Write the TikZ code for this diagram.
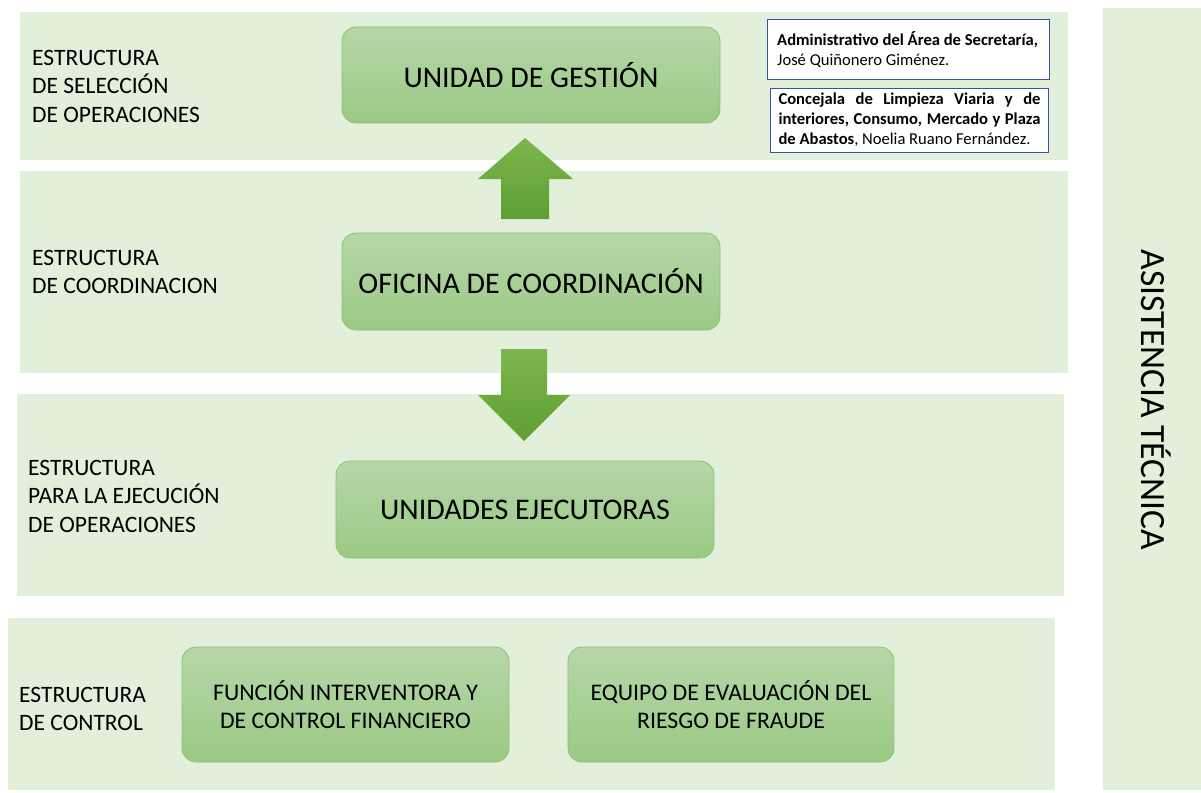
\documentclass[tikz,border=0pt]{standalone}
\usepackage{fontspec}
\setmainfont{Carlito}
\usetikzlibrary{positioning}
\definecolor{band}{HTML}{E2EFDA}
\definecolor{boxtop}{HTML}{B6D7A8}
\definecolor{boxbot}{HTML}{9BC985}
\definecolor{boxline}{HTML}{8CC26E}
\definecolor{arrtop}{HTML}{7DB64E}
\definecolor{arrbot}{HTML}{5E9E32}
\definecolor{blueline}{HTML}{3454A0}
\tikzset{
  bandbox/.style={fill=band, draw=none},
  greenbox/.style={rounded corners=14pt, top color=boxtop, bottom color=boxbot, draw=boxline, line width=0.8pt, align=center, inner sep=0pt},
  lbl/.style={anchor=west, align=left, font=\fontsize{23.5}{28.5}\selectfont, inner sep=0pt},
  infobox/.style={draw=blueline, line width=1.4pt, fill=white, inner sep=0pt, anchor=north west},
  blockarrow/.style={top color=arrtop, bottom color=arrbot, draw=none}
}
\begin{document}
\begin{tikzpicture}[x=1pt,y=-1pt]
\useasboundingbox (0,0) rectangle (1201,792);
\fill[white] (0,0) rectangle (1201,792);
% bands
\path[bandbox] (20,12) rectangle (1068,160);
\path[bandbox] (20,171) rectangle (1068,373);
\path[bandbox] (17,394) rectangle (1064,596);
\path[bandbox] (8,618) rectangle (1055,790);
\path[bandbox] (1103,8) rectangle (1201,790);
% labels
\node[lbl] (l1) at (32,86) {ESTRUCTURA\\DE SELECCIÓN\\DE OPERACIONES};
\node[lbl] (l2) at (32,272) {ESTRUCTURA\\DE COORDINACION};
\node[lbl] (l3) at (28,496) {ESTRUCTURA\\PARA LA EJECUCIÓN\\DE OPERACIONES};
\node[lbl] (l4) at (19,709) {ESTRUCTURA\\DE CONTROL};
% main boxes
\node[greenbox, minimum width=378pt, minimum height=96pt, font=\fontsize{30}{34}\selectfont] (ug) at (531,75) {UNIDAD DE GESTIÓN};
\node[greenbox, minimum width=378pt, minimum height=97pt, font=\fontsize{30}{34}\selectfont] (oc) at (531,281.5) {OFICINA DE COORDINACIÓN};
\node[greenbox, minimum width=378pt, minimum height=97pt, font=\fontsize{30}{34}\selectfont] (ue) at (525,509.5) {UNIDADES EJECUTORAS};
\node[greenbox, minimum width=327pt, minimum height=115pt, font=\fontsize{23.8}{28.5}\selectfont] (fi) at (345.5,704.5) {FUNCIÓN INTERVENTORA Y\\DE CONTROL FINANCIERO};
\node[greenbox, minimum width=326pt, minimum height=115pt, font=\fontsize{23.8}{28.5}\selectfont] (eq) at (731,704.5) {EQUIPO DE EVALUACIÓN DEL\\RIESGO DE FRAUDE};
% block arrows
\path[blockarrow] (501,219) -- (501,179) -- (478,179) -- (525,138) -- (573,179) -- (549,179) -- (549,219) -- cycle;
\path[blockarrow] (501,349) -- (547,349) -- (547,395) -- (570,395) -- (524,441) -- (478,395) -- (501,395) -- cycle;
% info boxes
\node[infobox, minimum width=282pt, minimum height=60pt] (ib1) at (767,19) {};
\node[anchor=west, align=left, inner sep=0pt, font=\fontsize{16.6}{20}\selectfont] (t1) at (777,50) {\textbf{Administrativo del Área de Secretaría,}\\José Quiñonero Giménez.};
\node[infobox, minimum width=278pt, minimum height=64pt] (ib2) at (770,88) {};
\node[anchor=center, text width=262pt, align=justify, inner sep=0pt, font=\fontsize{16.6}{20}\selectfont] (t2) at (909.5,120) {\textbf{Concejala de Limpieza Viaria y de \mbox{interiores,} Consumo, Mercado y Plaza de Abastos}, Noelia Ruano \mbox{Fernández.}};
% side label
\node[rotate=-90, font=\fontsize{35.5}{40}\selectfont, inner sep=0pt] (at) at (1156,400) {ASISTENCIA TÉCNICA};
\end{tikzpicture}
\end{document}
